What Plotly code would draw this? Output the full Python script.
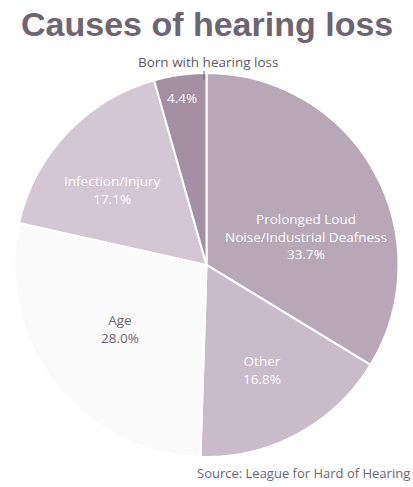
import plotly.graph_objects as go

W, H = 413, 487

causes = ["Prolonged Loud<br>Noise/Industrial Deafness", "Other", "Age", "Infection/Injury", "Born with hearing loss"]
shares = [33.7, 16.8, 28.0, 17.1, 4.4]
slice_colors = ["#b7a7b7", "#cabbca", "#fbfafb", "#d3c7d3", "#a48fa3"]
label_colors = ["#ffffff", "#ffffff", "#6f6870", "#ffffff", "#ffffff"]
# label centres in pixels (x, y) of the picture
label_pos = [(306, 236), (262, 370), (120, 329), (112, 190), (182, 98)]

def px(x, y):
    return x / W, 1 - y / H

fig = go.Figure()
fig.add_trace(go.Pie(
    labels=causes,
    values=shares,
    sort=False,
    direction="clockwise",
    rotation=0,
    marker=dict(colors=slice_colors, line=dict(color="#ffffff", width=2)),
    textinfo="none",
    hoverinfo="label+percent",
    showlegend=False,
    domain=dict(x=[0, 1], y=[0.0616, 0.8502]),
))

FONT = "Open Sans"
annotations = []
for i, (name, val) in enumerate(zip(causes, shares)):
    x, y = px(*label_pos[i])
    txt = f"{val:.1f}%" if i == 4 else f"{name}<br>{val:.1f}%"
    annotations.append(dict(
        text=txt, x=x, y=y, xref="paper", yref="paper",
        xanchor="center", yanchor="middle", showarrow=False,
        font=dict(family=FONT, size=13.5, color=label_colors[i]),
        align="center",
    ))

# title
tx, ty = px(207, 24)
annotations.append(dict(
    text="<b>Causes of hearing loss</b>", x=tx, y=ty, xref="paper", yref="paper",
    xanchor="center", yanchor="middle", showarrow=False,
    font=dict(family="Liberation Sans", size=34, color="#6d6570"),
))
# born with label above the pie
bx, by = px(208, 62)
annotations.append(dict(
    text=causes[4], x=bx, y=by, xref="paper", yref="paper",
    xanchor="center", yanchor="middle", showarrow=False,
    font=dict(family=FONT, size=13.5, color="#5f5a62"),
))
# source
sx, sy = px(412, 473)
annotations.append(dict(
    text="Source: League for Hard of Hearing", x=sx, y=sy, xref="paper", yref="paper",
    xanchor="right", yanchor="middle", showarrow=False,
    font=dict(family=FONT, size=13, color="#6a6670"),
))

l0 = px(204, 71)
l1 = px(204, 80)
shapes = [dict(type="line", xref="paper", yref="paper",
               x0=l0[0], y0=l0[1], x1=l1[0], y1=l1[1],
               line=dict(color="#6a6670", width=1))]

fig.update_layout(
    width=W, height=H,
    margin=dict(l=0, r=0, t=0, b=0),
    paper_bgcolor="#ffffff",
    plot_bgcolor="#ffffff",
    annotations=annotations,
    shapes=shapes,
)

fig.write_html("out.html",
               config={"displayModeBar": False},
               post_script="document.body.style.margin='0';document.body.style.overflow='hidden';")
